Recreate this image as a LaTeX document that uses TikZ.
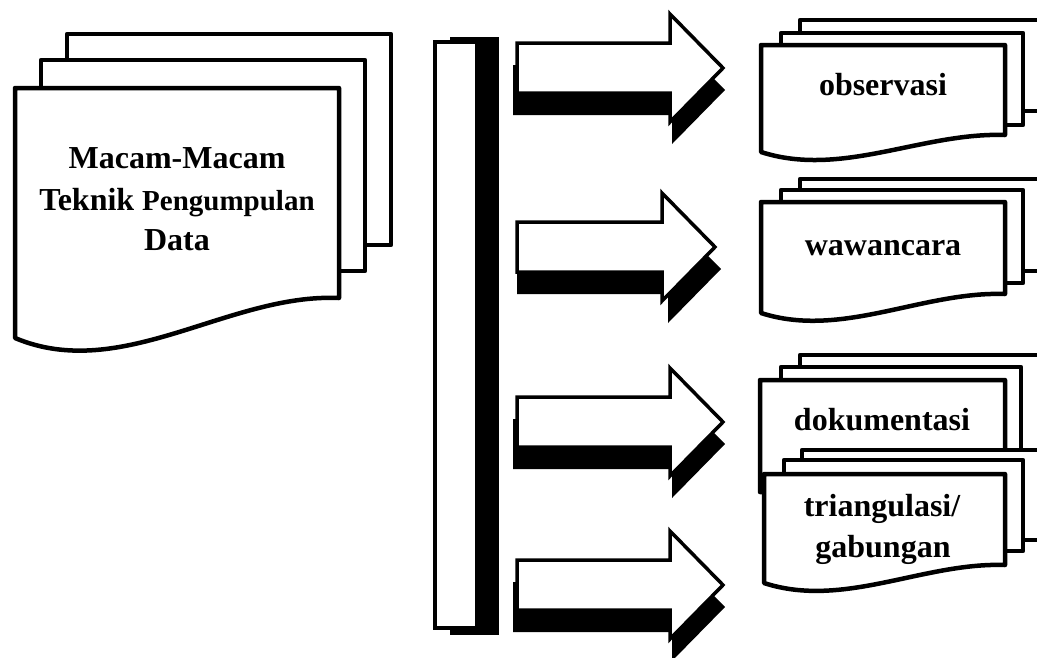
\documentclass[tikz,border=0pt]{standalone}
\usepackage{fontspec}
\setmainfont{Liberation Serif}

% page with a wavy lower edge: left, top, right, lower-right y, lower-left y, wave depth
\newcommand{\docpage}[6]{%
  \filldraw[docline] (#1,#2) -- (#3,#2) -- (#3,#4)
    .. controls ({#1+0.66*(#3-#1)},{#4-#6/9}) and ({#1+0.33*(#3-#1)},{#5+#6}) .. (#1,#5) -- cycle;}

% plain sheet behind a page
\newcommand{\sheet}[4]{\filldraw[docline] (#1,#2) rectangle (#3,#4);}

% block arrow with a solid shadow: centre y, tip x, shadow dx, shadow dy
\newcommand{\blockarrow}[4]{%
  \fill[black,shift={(#3,#4)}] (511,{#1-25}) -- ({#2-53},{#1-25}) -- ({#2-53},{#1-54})
    -- (#2,#1) -- ({#2-53},{#1+54}) -- ({#2-53},{#1+25}) -- (511,{#1+25}) -- cycle;
  \filldraw[arrowline] (517,{#1-25}) -- ({#2-53},{#1-25}) -- ({#2-53},{#1-54})
    -- (#2,#1) -- ({#2-53},{#1+54}) -- ({#2-53},{#1+25}) -- (517,{#1+25}) -- cycle;}

\begin{document}
\begin{tikzpicture}[x=1pt,y=-1pt,
  docline/.style={draw=black,fill=white,line width=4.5pt,line join=round},
  arrowline/.style={draw=black,fill=white,line width=3.5pt,line join=miter},
  barline/.style={draw=black,fill=white,line width=4pt},
  label/.style={font=\fontsize{32}{40}\selectfont\bfseries,anchor=base,inner sep=0pt}]

\useasboundingbox (0,0) rectangle (1037,657);
\fill[white] (0,0) rectangle (1037,657);

% stack of pages on the left
\sheet{67}{34}{391}{245}
\sheet{41}{60}{365}{271}
\docpage{15}{88}{339}{298}{338}{45}
\node[label] (mainA) at (177,168) {Macam-Macam};
\node[label] (mainB) at (177,210) {Teknik {\fontsize{29}{36}\selectfont Pengumpulan}};
\node[label] (mainC) at (177,250) {Data};

% vertical bar with its shadow
\fill[black] (450,37) rectangle (499,635);
\filldraw[barline] (435,42) rectangle (477,628);

% four block arrows
\blockarrow{68}{723}{2}{22}
\blockarrow{247}{715}{6}{22}
\blockarrow{422}{723}{2}{22}
\blockarrow{585}{723}{2}{22}

% observasi
\sheet{800}{20}{1050}{111}
\sheet{781}{33}{1023}{125}
\docpage{761}{45}{1005}{135}{152}{26}
\node[label] (obs) at (883,95) {observasi};

% wawancara
\sheet{800}{179}{1050}{271}
\sheet{781}{190}{1023}{283}
\docpage{761}{202}{1005}{294}{313}{26}
\node[label] (waw) at (883,255) {wawancara};

% dokumentasi
\sheet{800}{355}{1050}{470}
\sheet{781}{367}{1021}{470}
\docpage{760}{380}{1005}{480}{492}{8}
\node[label] (dok) at (882,430) {dokumentasi};

% triangulasi / gabungan
\sheet{802}{450}{1050}{540}
\sheet{784}{460}{1023}{551}
\docpage{764}{474}{1005}{565}{583}{26}
\node[label] (triA) at (882,516) {triangulasi/};
\node[label] (triB) at (883,557) {gabungan};

\end{tikzpicture}
\end{document}
